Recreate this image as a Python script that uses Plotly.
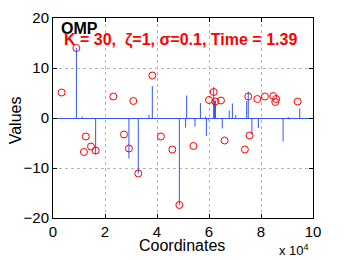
import plotly.graph_objects as go

# Original sparse signal (stems): coordinates and values
stem_x = [9000, 11200, 16400, 29200, 32800, 36900, 38200, 48600, 51000, 51400,
          54600, 56700, 58700, 59000, 59700, 61800, 62000, 62200, 62500, 65100,
          67800, 69000, 70300, 74500, 75100, 76500, 79000, 88500, 90500, 91000, 94900]
stem_y = [14.0, 0.3, -7.3, -8.1, -11.1, 0.6, 6.4, -17.4, -1.9, 4.5,
          -1.7, 3.0, 0.3, -3.6, -0.5, 6.2, 3.5, 3.4, 3.5, -2.1,
          1.5, 2.9, 0.6, 3.4, 5.3, -3.3, -2.0, -4.7, 0.2, -0.3, 1.9]

# OMP recovered values (circles)
rec_x = [3300, 9000, 11900, 12600, 14600, 16400, 23200, 27300, 29200, 30900,
         32800, 38200, 41500, 45900, 48600, 54000, 60000, 61800, 62400, 64600,
         66000, 73800, 75100, 75600, 78600, 81500, 84700, 85500, 85800, 94100]
rec_y = [5.1, 14.0, -6.8, -3.7, -5.7, -6.5, 4.3, -3.3, -6.1, 3.4,
         -11.1, 8.5, -3.7, -6.3, -17.4, -5.6, 3.6, 5.2, 3.3, 3.5,
         -4.5, -6.3, 4.3, -3.5, 3.8, 4.3, 4.4, 3.2, 3.8, 3.3]

x_ticks = [0, 2, 4, 6, 8, 10]
y_ticks = [-20, -10, 0, 10, 20]
title_main = "OMP"
title_sub = "K = 30,  ζ=1, σ=0.1, Time = 1.39"
x_label = "Coordinates"
y_label = "Values"

SCALE = 1e4
FONT = "Liberation Sans, Arial, Helvetica, sans-serif"
BLUE = "#3355ff"

sx, sy = [], []
for xv, yv in zip(stem_x, stem_y):
    sx += [xv / SCALE, xv / SCALE, None]
    sy += [0, yv, None]

fig = go.Figure()
fig.add_trace(go.Scatter(x=sx, y=sy, mode="lines",
                         line=dict(color=BLUE, width=1), hoverinfo="skip",
                         showlegend=False))
fig.add_trace(go.Scatter(x=[v / SCALE for v in rec_x], y=rec_y, mode="markers",
                         marker=dict(symbol="circle-open", size=7,
                                     color="#ff0000", line=dict(width=1)),
                         showlegend=False))

axis_common = dict(showline=True, linecolor="black", linewidth=1, mirror="ticks",
                   ticks="inside", ticklen=4, tickcolor="black", automargin=False,
                   showgrid=True, gridcolor="#b5b5b5", griddash="dot", gridwidth=1,
                   tickfont=dict(family=FONT, size=15, color="black"))

# the page body has an 8px default margin; size the figure so the plot area
# lands where the reference has it inside the 346x260 window
fig.update_layout(
    width=338, height=252,
    margin=dict(l=45, r=33, t=10, b=42),
    paper_bgcolor="white", plot_bgcolor="white",
    xaxis=dict(range=[0, 10], tickvals=x_ticks, ticktext=[str(t) for t in x_ticks],
               zeroline=False, **axis_common),
    yaxis=dict(range=[-20, 20], tickvals=y_ticks,
               zeroline=True, zerolinecolor=BLUE, zerolinewidth=1,
               **axis_common),
    annotations=[
        dict(text="<b>" + title_main + "</b>", x=0.023, y=1.0, xref="paper", yref="paper",
             xanchor="left", yanchor="top", showarrow=False,
             font=dict(family=FONT, size=16, color="black")),
        dict(text="<b>" + title_sub + "</b>", x=0.036, y=0.945, xref="paper", yref="paper",
             xanchor="left", yanchor="top", showarrow=False,
             font=dict(family=FONT, size=16, color="#ff0000")),
        dict(text=x_label, x=0.498, y=-0.135, xref="paper", yref="paper",
             xanchor="center", yanchor="middle", showarrow=False,
             font=dict(family=FONT, size=16, color="black")),
        dict(text=y_label, x=-0.145, y=0.49, xref="paper", yref="paper",
             xanchor="center", yanchor="middle", showarrow=False, textangle=-90,
             font=dict(family=FONT, size=16, color="black")),
        dict(text="x 10<sup>4</sup>", x=0.862, y=-0.21, xref="paper", yref="paper",
             xanchor="left", yanchor="bottom", showarrow=False,
             font=dict(family=FONT, size=13, color="black")),
    ],
)

fig.write_html("out.html")
